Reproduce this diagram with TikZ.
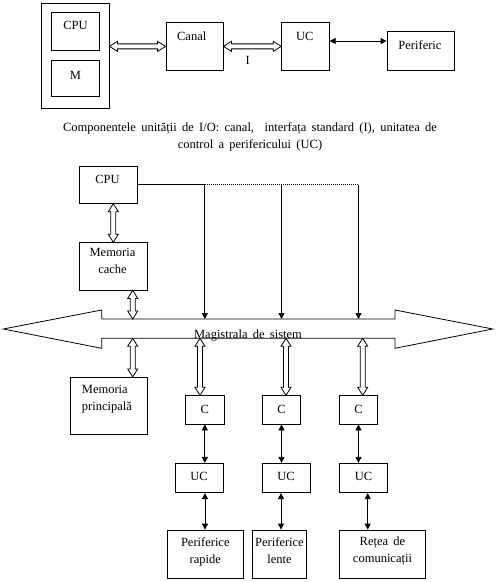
\documentclass[tikz,border=0pt]{standalone}
\usepackage{fontspec}
\setmainfont[WordSpace=1.7]{Liberation Serif}
\usetikzlibrary{calc,arrows.meta}
\def\hl{8pt}\def\hw{5pt}\def\sw{2.5pt}
\newcommand\hollowarr[2]{%
  \path ($(#1)!\hl!(#2)$) coordinate (hp) ($(#2)!\hl!(#1)$) coordinate (hq);
  \draw[hollowstyle] (#1) -- ($(hp)!\hw!90:(#2)$) -- ($(hp)!\sw!90:(#2)$)
    -- ($(hq)!\sw!-90:(#1)$) -- ($(hq)!\hw!-90:(#1)$) -- (#2)
    -- ($(hq)!\hw!90:(#1)$) -- ($(hq)!\sw!90:(#1)$)
    -- ($(hp)!\sw!-90:(#2)$) -- ($(hp)!\hw!-90:(#2)$) -- cycle;}
\begin{document}
\begin{tikzpicture}[x=1pt,y=-1pt,
  box/.style 2 args={draw,line width=0.8pt,inner sep=0pt,minimum width=#1,minimum height=#2},
  txt/.style={inner sep=0pt,font=\fontsize{12.5}{17}\selectfont},
  hollowstyle/.style={draw,fill=white,line width=0.8pt,line join=miter},
  plain/.style={line width=0.8pt},
  dotline/.style={line width=0.8pt,dash pattern=on 1pt off 1pt},
  solidarr/.style={line width=0.8pt,{Triangle[width=6pt,length=6pt]}-{Triangle[width=6pt,length=6pt]}},
  sig/.style={line width=0.8pt,-{Triangle[width=6pt,length=6pt]}}]
\useasboundingbox (0,0) rectangle (496,582);
% ---------- top diagram ----------
\node[box={67.5pt}{105pt}] (outer) at (75.25,55.5) {};
\node[box={47.6pt}{37.3pt}] (cpuA) at (75.5,31.35) {};
\node[box={47.6pt}{36pt}] (mA) at (75.5,78) {};
\node[box={57pt}{47.3pt}] (canal) at (194.5,46.35) {};
\node[box={47.6pt}{47.3pt}] (ucA) at (305.5,46.35) {};
\node[box={67pt}{38.3pt}] (per) at (420.5,50.85) {};
\node[txt,anchor=base] (cpuAt) at (75.5,29) {CPU};
\node[txt,anchor=base] (mAt) at (75.5,79.3) {M};
\node[txt,anchor=base] (canalt) at (191.7,40.7) {Canal};
\node[txt,anchor=base] (ucAt) at (304.7,40.7) {UC};
\node[txt,anchor=base] (pert) at (420,49.3) {Periferic};
\node[txt,anchor=base] (it) at (247.7,64) {I};
\coordinate (h1a) at (outer.east |- canal.west);
\hollowarr{h1a}{canal.west}
\hollowarr{canal.east}{ucA.west}
\coordinate (s1a) at ($(ucA.east)+(0,-5.35)$);
\coordinate (s1b) at (s1a -| per.west);
\draw[solidarr] (s1a) -- (s1b);
\node[txt,align=center,anchor=north] (cap) at (250,122.5)
  {Componentele unității de I/O: canal,~ interfața standard (I), unitatea de\\control a perifericului (UC)};
% ---------- lower diagram ----------
\node[box={58pt}{37.3pt}] (cpuB) at (108.3,184.65) {};
\node[box={68pt}{47.3pt}] (cache) at (113.3,266.35) {};
\node[box={76.6pt}{56.7pt}] (memp) at (109,405.65) {};
\node[box={38.3pt}{28.3pt}] (cA) at (204.85,409.85) {};
\node[box={38.3pt}{28.3pt}] (cB) at (281.5,409.85) {};
\node[box={38.3pt}{28.3pt}] (cC) at (358.5,409.85) {};
\node[box={48pt}{29.4pt}] (uA) at (199.15,478) {};
\node[box={48pt}{29.4pt}] (uB) at (286.15,478) {};
\node[box={48pt}{29.4pt}] (uC) at (363.5,478) {};
\node[box={76pt}{48.3pt}] (pA) at (205.3,554.15) {};
\node[box={54.4pt}{48.3pt}] (pB) at (279.5,554.15) {};
\node[box={86.4pt}{48.3pt}] (pC) at (382.5,554.15) {};
% bus
\draw[plain,line join=miter] (3.3,329) -- (101.7,310) -- (101.7,319) -- (395,319) -- (395,310)
  -- (492.7,329) -- (395,348.3) -- (395,338.3) -- (101.7,338.3) -- (101.7,348.3) -- cycle;
\coordinate (bustop) at (248,319);
\coordinate (busbot) at (248,338.3);
\node[txt,anchor=base] (bus) at (248,338.3) {Magistrala de sistem};
% hollow arrows
\coordinate (h3a) at (cache.north |- cpuB.south);
\hollowarr{h3a}{cache.north}
\coordinate (h4a) at ($(cache.south)+(19.4,0)$);
\coordinate (h4b) at (h4a |- bustop);
\hollowarr{h4a}{h4b}
\coordinate (h5a) at (h4a |- busbot);
\coordinate (h5b) at (h4a |- memp.north);
\hollowarr{h5a}{h5b}
\coordinate (hcA) at ($(cA.north)+(-4.85,0)$);
\coordinate (hcAb) at (hcA |- busbot);
\hollowarr{hcAb}{hcA}
\coordinate (hcB) at ($(cB.north)+(4.5,0)$);
\coordinate (hcBb) at (hcB |- busbot);
\hollowarr{hcBb}{hcB}
\coordinate (hcC) at ($(cC.north)+(4.2,0)$);
\coordinate (hcCb) at (hcC |- busbot);
\hollowarr{hcCb}{hcC}
% signal lines
\coordinate (jA) at (cpuB.east -| cA.north);
\coordinate (jB) at (cpuB.east -| cB.north);
\coordinate (jC) at (cpuB.east -| cC.north);
\draw[plain] (cpuB.east) -- (jA);
\draw[dotline] (jA) -- (jC);
\draw[sig] (jA) -- (jA |- bustop);
\draw[sig] (jB) -- (jB |- bustop);
\draw[sig] (jC) -- (jC |- bustop);
% C - UC
\draw[solidarr] (cA.south) -- (cA.south |- uA.north);
\draw[solidarr] (cB.south) -- (cB.south |- uB.north);
\draw[solidarr] (cC.south) -- (cC.south |- uC.north);
% UC - peripherals
\coordinate (ua) at ($(uA.south)+(5.85,0)$);
\coordinate (ub) at ($(uB.south)+(-5.15,0)$);
\coordinate (uc) at ($(uC.south)+(4.2,0)$);
\draw[solidarr] (ua) -- (ua |- pA.north);
\draw[solidarr] (ub) -- (ub |- pB.north);
\draw[solidarr] (uc) -- (uc |- pC.north);
% texts
\node[txt,anchor=base] (cpuBt) at (107.5,183.5) {CPU};
\node[txt,align=center,anchor=north] (cachet) at (112.5,248.3) {Memoria\\cache};
\node[txt,align=left,anchor=north west] (mempt) at (81.7,384.6) {Memoria\\principală};
\node[txt,anchor=base] (cAt) at (204.85,413.3) {C};
\node[txt,anchor=base] (cBt) at (281.5,413.3) {C};
\node[txt,anchor=base] (cCt) at (358.5,413.3) {C};
\node[txt,anchor=base] (uAt) at (199.15,480.7) {UC};
\node[txt,anchor=base] (uBt) at (286.15,480.7) {UC};
\node[txt,anchor=base] (uCt) at (363.5,480.7) {UC};
\node[txt,align=center,anchor=north] (pAt) at (205.3,537) {Periferice\\rapide};
\node[txt,align=center,anchor=north] (pBt) at (279.5,537) {Periferice\\lente};
\node[txt,align=center,anchor=north] (pCt) at (382.5,537) {Rețea de\\comunicații};
\end{tikzpicture}
\end{document}
